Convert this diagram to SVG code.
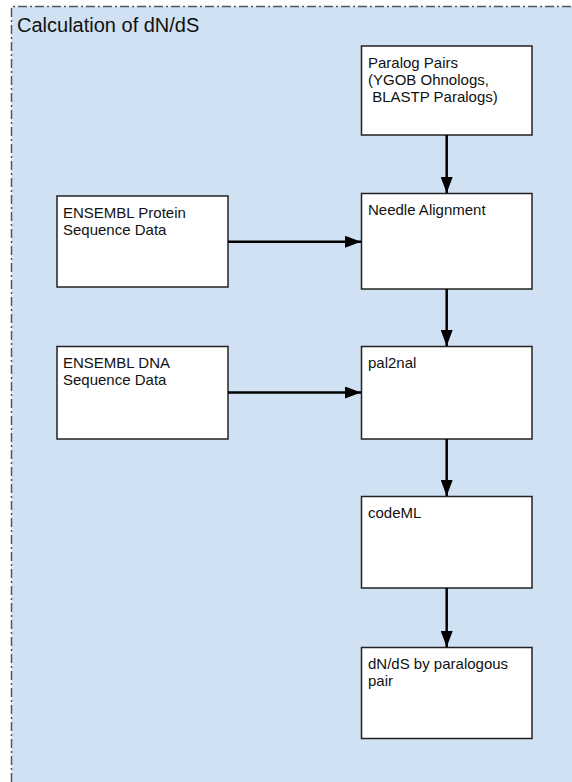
<svg xmlns="http://www.w3.org/2000/svg" width="572" height="782" viewBox="0 0 572 782">
  <defs>
    <style>
      .pool { fill: #cfe1f2; }
      .pool-edge { fill: none; stroke: #555555; stroke-width: 1.5; stroke-dasharray: 9 3 2 3; }
      .box { fill: #ffffff; stroke: #222222; stroke-width: 1.5; }
      .label { font-family: "Liberation Sans", Arial, sans-serif; font-size: 15px; fill: #111111; }
      .title { font-family: "Liberation Sans", Arial, sans-serif; font-size: 20px; fill: #111111; }
      .edge { fill: none; stroke: #000000; stroke-width: 2.5; }
    </style>
    <marker id="arrow" viewBox="0 0 16 12" refX="16" refY="6" markerWidth="16" markerHeight="12" markerUnits="userSpaceOnUse" orient="auto">
      <path d="M0,0 L16,6 L0,12 Z" fill="#000000"/>
    </marker>
  </defs>

  <!-- swimlane background -->
  <g id="pool">
    <rect class="pool" x="11.5" y="6.5" width="561" height="776"/>
    <path class="pool-edge" d="M11.5,782 L11.5,6.5 L572,6.5"/>
    <text class="title" x="17" y="32">Calculation of dN/dS</text>
  </g>

  <g id="paralog-pairs">
    <rect class="box" x="361.5" y="46" width="170.5" height="89"/>
    <text class="label" x="368" y="67.5" xml:space="preserve"><tspan x="368">Paralog Pairs</tspan><tspan x="368" dy="17">(YGOB Ohnologs,</tspan><tspan x="368" dy="17"> BLASTP Paralogs)</tspan></text>
  </g>

  <g id="ensembl-protein">
    <rect class="box" x="57" y="196" width="171" height="91"/>
    <text class="label" x="63" y="217.5"><tspan x="63">ENSEMBL Protein</tspan><tspan x="63" dy="17">Sequence Data</tspan></text>
  </g>

  <g id="needle-alignment">
    <rect class="box" x="361.5" y="193.5" width="170.5" height="95.5"/>
    <text class="label" x="368" y="215">Needle Alignment</text>
  </g>

  <g id="ensembl-dna">
    <rect class="box" x="57" y="346.5" width="171" height="92.5"/>
    <text class="label" x="63" y="368"><tspan x="63">ENSEMBL DNA</tspan><tspan x="63" dy="17">Sequence Data</tspan></text>
  </g>

  <g id="pal2nal">
    <rect class="box" x="361.5" y="346.5" width="170.5" height="92.5"/>
    <text class="label" x="368" y="368">pal2nal</text>
  </g>

  <g id="codeml">
    <rect class="box" x="361.5" y="496.5" width="170.5" height="91.5"/>
    <text class="label" x="368" y="518">codeML</text>
  </g>

  <g id="dnds-by-pair">
    <rect class="box" x="361.5" y="647.5" width="170.5" height="91"/>
    <text class="label" x="368" y="669"><tspan x="368">dN/dS by paralogous</tspan><tspan x="368" dy="17">pair</tspan></text>
  </g>

  <!-- flow connectors -->
  <g id="connectors">
    <path class="edge" marker-end="url(#arrow)" d="M446.7,135 L446.7,193"/>
    <path class="edge" marker-end="url(#arrow)" d="M228,241.7 L361,241.7"/>
    <path class="edge" marker-end="url(#arrow)" d="M446.7,289 L446.7,346"/>
    <path class="edge" marker-end="url(#arrow)" d="M228,392.5 L361,392.5"/>
    <path class="edge" marker-end="url(#arrow)" d="M446.7,439 L446.7,496"/>
    <path class="edge" marker-end="url(#arrow)" d="M446.7,588 L446.7,647"/>
  </g>
</svg>
